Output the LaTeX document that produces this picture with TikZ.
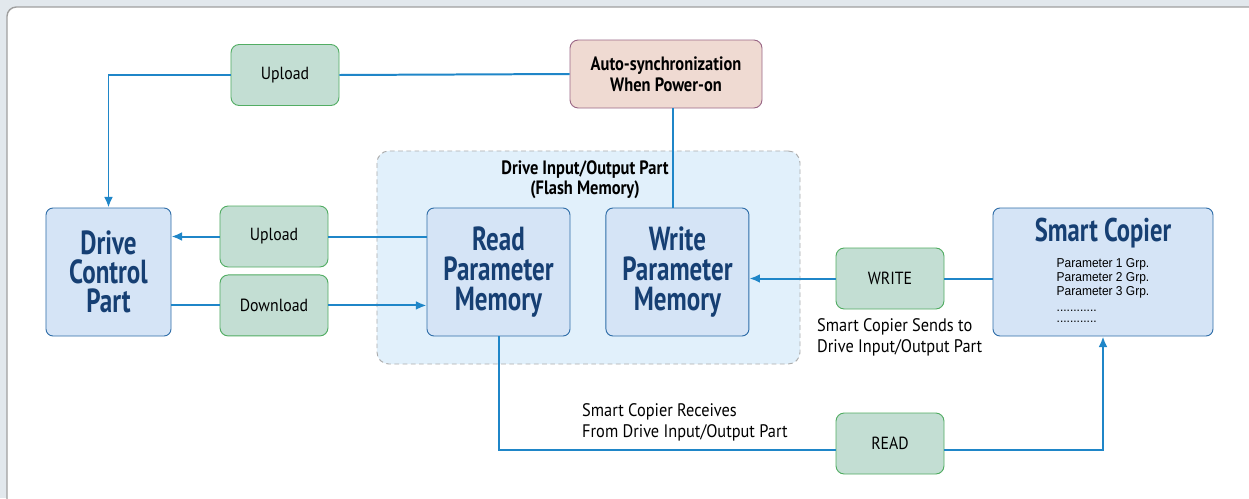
\documentclass[tikz,border=0pt]{standalone}
\usepackage{fontspec}
\setmainfont{PT Sans}
\newfontfamily\boxfont[FakeStretch=0.75]{PT Sans}
\newfontfamily\headfont[FakeStretch=0.85]{PT Sans}
\newfontfamily\tagfont[FakeStretch=0.9]{PT Sans}
\newfontfamily\listfont[FakeStretch=0.93]{Liberation Sans}
\usepackage{xcolor}
\usetikzlibrary{arrows.meta,positioning}

\definecolor{wireblue}{HTML}{1F86C8}
\definecolor{tagfill}{HTML}{C3DED3}
\definecolor{tagdraw}{HTML}{52AD63}
\definecolor{partfill}{HTML}{D5E4F6}
\definecolor{partdraw}{HTML}{2E6DA8}
\definecolor{parttext}{HTML}{163F73}
\definecolor{syncfill}{HTML}{EFDAD2}
\definecolor{syncdraw}{HTML}{9A6786}
\definecolor{groupfill}{HTML}{E1F0FB}
\definecolor{pagebg}{HTML}{E2E8ED}

\begin{document}
\begin{tikzpicture}[x=0.03cm,y=-0.03cm]
      \tikzset{
        part/.style={rectangle, rounded corners=6pt, draw=partdraw, fill=partfill, line width=0.8pt,
                     minimum width=4.29cm, minimum height=3.84cm, inner sep=0pt, align=center,
                     text=parttext, font=\boxfont\bfseries\fontsize{28.5}{25.3}\selectfont},
        tag/.style={rectangle, rounded corners=7pt, draw=tagdraw, fill=tagfill, line width=0.8pt,
                    minimum width=3.24cm, minimum height=1.83cm, inner sep=0pt,
                    font=\tagfont\fontsize{15}{16}\selectfont},
        note/.style={inner sep=0pt, align=left, font=\tagfont\fontsize{15.5}{18.4}\selectfont},
        wire/.style={draw=wireblue, line width=1.7pt},
        pfeil/.style={wire, -{Latex[length=9pt, width=7.5pt]}}
      }

      \useasboundingbox (0,0) rectangle (1249,498);
      \fill[pagebg] (0,0) rectangle (1249,498);
      \clip (0,0) rectangle (1249,498);
      \draw[draw=gray!75, fill=white, line width=1.2pt, rounded corners=8pt] (7,7) rectangle (1280,530);

      % flash memory group
      \node[rectangle, rounded corners=10pt, draw=gray!65, fill=groupfill, line width=0.8pt,
            dash pattern=on 4pt off 3pt, minimum width=12.69cm, minimum height=6.39cm]
            (flash) at (588.5,257.5) {};
      \node[inner sep=0pt, align=center, font=\headfont\bfseries\fontsize{16.5}{17}\selectfont]
            (flashlabel) at (585,180) {Drive Input/Output Part\\(Flash Memory)};

      \node[part] (readmem) at (498.5,272) {Read\\Parameter\\Memory};
      \node[part, right=1.05cm of readmem] (writemem) {Write\\Parameter\\Memory};
      \node[part, minimum width=3.75cm, font=\boxfont\bfseries\fontsize{28.5}{24.7}\selectfont]
            (drive) at (108.5,272) {Drive\\Control\\Part};
      \node[part, minimum width=6.6cm] (copier) at (1103,272) {%
        {\fontsize{28}{26}\selectfont Smart Copier}\\[-3pt]
        {\mdseries\listfont\color{black}\fontsize{11}{12}\selectfont
        \begin{tabular}[t]{@{}l@{}}
          Parameter 1 Grp.\\
          Parameter 2 Grp.\\
          Parameter 3 Grp.\\[2pt]
          ............\\[-3pt]
          ............
        \end{tabular}}};

      \node[rectangle, rounded corners=7pt, draw=syncdraw, fill=syncfill, line width=0.8pt,
            minimum width=5.76cm, minimum height=2.04cm, align=center,
            font=\headfont\bfseries\fontsize{16.5}{18}\selectfont]
            (autosync) at (666,74) {Auto-synchronization\\When Power-on};

      \node[tag] (uploadtop) at (285,75) {Upload};
      \node[tag] (uploadmid) at (274,236.5) {Upload};
      \node[tag, below=0.21cm of uploadmid] (download) {Download};
      \node[tag] (writebox) at (890,278.5) {WRITE};
      \node[tag] (readbox) at (890,443.5) {READ};

      \node[note, anchor=north west] (sendnote) at (817,318) {Smart Copier Sends to\\Drive Input/Output Part};
      \node[note, anchor=north west] (receivenote) at (582,403) {Smart Copier Receives\\From Drive Input/Output Part};

      \draw[wire] (autosync.west) -- (uploadtop.east);
      \draw[pfeil] (uploadtop.west) -| (drive.north);
      \draw[wire] ([xshift=-0.135cm]writemem.north) -- ([xshift=-0.135cm]writemem.north |- autosync.south);

      \draw[wire] (readmem.west |- uploadmid.east) -- (uploadmid.east);
      \draw[pfeil] (uploadmid.west) -- (drive.east |- uploadmid.west);
      \draw[wire] (drive.east |- download.west) -- (download.west);
      \draw[pfeil] (download.east) -- (readmem.west |- download.east);

      \draw[wire] (copier.west |- writebox.east) -- (writebox.east);
      \draw[pfeil] (writebox.west) -- (writemem.east |- writebox.west);

      \draw[wire] (readmem.south) |- ([yshift=-0.2cm]readbox.west);
      \draw[pfeil] ([yshift=-0.2cm]readbox.east) -| (copier.south);

    \end{tikzpicture}
\end{document}
